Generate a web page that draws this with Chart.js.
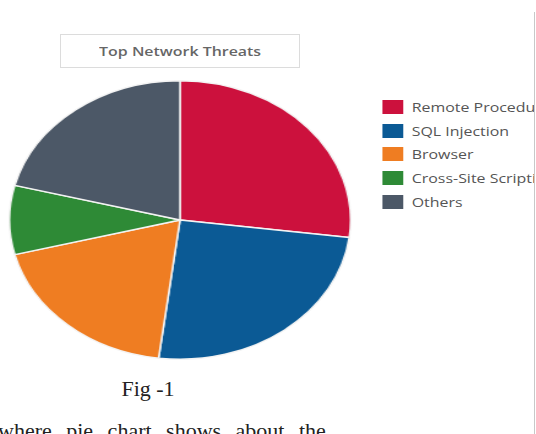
<!DOCTYPE html>
<html>
<head>
<meta charset="utf-8">
<title>Top Network Threats</title>
<script src="https://cdn.jsdelivr.net/npm/chart.js@4/dist/chart.umd.min.js"></script>
<style>
    html, body {
        margin: 0;
        padding: 0;
        background: #fff;
        width: 536px;
        height: 434px;
        overflow: hidden;
        position: relative;
    }
    .title-box {
        position: absolute;
        left: 60px;
        top: 34px;
        width: 238px;
        height: 32px;
        border: 1px solid #dcdcdc;
        font: 600 13px "Open Sans", sans-serif;
        color: #666;
        text-align: center;
        line-height: 32px;
    }
    .title-box span {
        display: inline-block;
        transform: scaleX(1.225);
    }
    .pie-wrap {
        position: absolute;
        left: 40px;
        top: 80px;
        width: 280px;
        height: 280px;
        transform: scaleX(1.225);
        transform-origin: 50% 50%;
    }
    /* the source picture is stretched sideways, so the legend is too */
    .legend {
        position: absolute;
        left: 380px;
        top: 95px;
        width: 126px;
        overflow: hidden;
        white-space: nowrap;
        font: 13px "Open Sans", sans-serif;
        color: #555;
        transform: scaleX(1.225);
        transform-origin: 0 0;
    }
    .legend-row {
        height: 23.8px;
        display: flex;
        align-items: center;
    }
    .legend-swatch {
        width: 17px;
        height: 14px;
        margin-left: 1.6px;
        margin-right: 7.3px;
        flex: none;
    }
    .frame-line {
        position: absolute;
        left: 534px;
        top: 12px;
        width: 1px;
        height: 422px;
        background: #c8c8c8;
    }
    .fig-caption {
        position: absolute;
        left: 100px;
        top: 376px;
        width: 96px;
        text-align: center;
        font: 22px "Liberation Serif", "Times New Roman", serif;
        color: #222;
        line-height: 26px;
    }
    .body-text {
        position: absolute;
        left: -2px;
        top: 418px;
        white-space: nowrap;
        font: 22px "Liberation Serif", "Times New Roman", serif;
        word-spacing: 9px;
        color: #222;
        line-height: 26px;
    }
</style>
</head>
<body>
    <div class="title-box"><span>Top Network Threats</span></div>
    <div class="pie-wrap"><canvas id="threatChart"></canvas></div>
    <div class="legend" id="threatLegend"></div>
    <div class="frame-line"></div>
    <div class="fig-caption">Fig -1</div>
    <div class="body-text">where pie chart shows about the</div>

<script>
// Chart data (percent share)
const threatLabels = ['Remote Procedure Call', 'SQL Injection', 'Browser', 'Cross-Site Scripting', 'Others'];
const threatShares = [27, 25, 19, 8, 21];
const threatColors = ['#cc113d', '#0b5a95', '#ef7d22', '#2e8a36', '#4c5867'];

/**
 * Builds the legend next to the pie from the label and colour arrays.
 */
function renderLegend() {
    const legend = document.getElementById('threatLegend');
    threatLabels.forEach((label, i) => {
        const row = document.createElement('div');
        row.className = 'legend-row';
        const swatch = document.createElement('span');
        swatch.className = 'legend-swatch';
        swatch.style.background = threatColors[i];
        const text = document.createElement('span');
        text.textContent = label;
        row.appendChild(swatch);
        row.appendChild(text);
        legend.appendChild(row);
    });
}

/**
 * Draws the pie chart.
 */
function renderPie() {
    const ctx = document.getElementById('threatChart');
    new Chart(ctx, {
        type: 'pie',
        data: {
            labels: threatLabels,
            datasets: [{
                data: threatShares,
                backgroundColor: threatColors,
                borderColor: '#f4f4f4',
                borderWidth: 1.5
            }]
        },
        options: {
            responsive: true,
            maintainAspectRatio: false,
            animation: false,
            layout: { padding: 0 },
            plugins: {
                legend: { display: false },
                tooltip: { enabled: false }
            }
        }
    });
}

document.addEventListener('DOMContentLoaded', () => {
    renderLegend();
    renderPie();
});
</script>
</body>
</html>
